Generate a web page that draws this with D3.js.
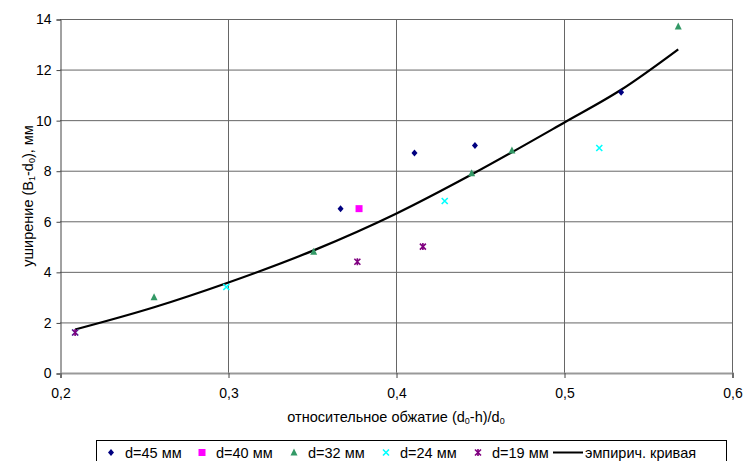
<!DOCTYPE html>
<html><head><meta charset="utf-8">
<script src="https://cdn.jsdelivr.net/npm/d3@7"></script>
<style>body{margin:0;background:#fff}svg{display:block;font-family:"Liberation Sans",Arial,sans-serif}</style>
</head><body><svg id="c" width="744" height="461"></svg>
<script>
const xTicks = [0.2, 0.3, 0.4, 0.5, 0.6];
const xTickLabels = ["0,2", "0,3", "0,4", "0,5", "0,6"];
const yTicks = [0, 2, 4, 6, 8, 10, 12, 14];

const d45x = [0.367, 0.411, 0.447, 0.534];
const d45y = [6.5, 8.7, 9.0, 11.1];
const d40x = [0.378];
const d40y = [6.5];
const d32x = [0.256, 0.351, 0.445, 0.469, 0.568];
const d32y = [3.0, 4.8, 7.9, 8.8, 13.7];
const d24x = [0.209, 0.299, 0.429, 0.521];
const d24y = [1.6, 3.4, 6.8, 8.9];
const d19x = [0.209, 0.377, 0.416];
const d19y = [1.6, 4.4, 5.0];
const curveX = [0.209, 0.256, 0.299, 0.351, 0.40, 0.445, 0.50, 0.534, 0.568];
const curveY = [1.72, 2.6, 3.55, 4.85, 6.3, 7.85, 9.9, 11.2, 12.8];

const series = [
  {name: "d=45 мм", xs: d45x, ys: d45y, type: "diamond", color: "#000080"},
  {name: "d=40 мм", xs: d40x, ys: d40y, type: "square", color: "#ff00ff"},
  {name: "d=32 мм", xs: d32x, ys: d32y, type: "triangle", color: "#339966"},
  {name: "d=24 мм", xs: d24x, ys: d24y, type: "x", color: "#00ffff"},
  {name: "d=19 мм", xs: d19x, ys: d19y, type: "star", color: "#800080"}
];

const svg = d3.select("#c");
const L = 60, R = 732, T = 19, B = 373;
const x = d3.scaleLinear().domain([0.2, 0.6]).range([L, R]);
const y = d3.scaleLinear().domain([0, 14]).range([B, T]);

// gridlines
svg.append("g").selectAll("line").data(yTicks.slice(1)).join("line")
  .attr("x1", L).attr("x2", R).attr("y1", d => y(d) + 0.5).attr("y2", d => y(d) + 0.5)
  .attr("stroke", "#666").attr("stroke-width", 1);
svg.append("g").selectAll("line").data(xTicks.slice(1)).join("line")
  .attr("y1", T).attr("y2", B).attr("x1", d => x(d) + 0.5).attr("x2", d => x(d) + 0.5)
  .attr("stroke", "#666").attr("stroke-width", 1);

// axes
const yAxis = d3.axisLeft(y).tickValues(yTicks).tickSize(4).tickPadding(5).tickFormat(d => d);
const gy = svg.append("g").attr("transform", `translate(${L + 0.5},0.5)`).call(yAxis);
gy.select(".domain").attr("stroke", "#444");
gy.selectAll(".tick line").attr("stroke", "#444");
gy.selectAll("text").attr("font-size", 14).attr("fill", "#000").attr("font-family", "Liberation Sans, Arial, sans-serif");

const xAxis = d3.axisBottom(x).tickValues(xTicks).tickSize(5).tickPadding(10).tickFormat((d, i) => xTickLabels[i]);
const gx = svg.append("g").attr("transform", `translate(0.5,${B})`).call(xAxis);
gx.select(".domain").attr("stroke", "#999").attr("stroke-width", 2);
gx.selectAll(".tick line").attr("stroke", "#444");
gx.selectAll("text").attr("font-size", 14).attr("fill", "#000").attr("font-family", "Liberation Sans, Arial, sans-serif");

// axis titles
const yt = svg.append("text").attr("transform", `translate(33,${(T + B) / 2}) rotate(-90)`)
  .attr("text-anchor", "middle").attr("font-size", 14.5);
yt.append("tspan").text("уширение (B");
yt.append("tspan").text("1").attr("font-size", 9).attr("dy", 2);
yt.append("tspan").text("-d").attr("dy", -2);
yt.append("tspan").text("0").attr("font-size", 9).attr("dy", 2);
yt.append("tspan").text("), мм").attr("dy", -2);

const xt = svg.append("text").attr("x", (L + R) / 2).attr("y", 422)
  .attr("text-anchor", "middle").attr("font-size", 14.5);
xt.append("tspan").text("относительное обжатие (d");
xt.append("tspan").text("0").attr("font-size", 9).attr("dy", 2);
xt.append("tspan").text("-h)/d").attr("dy", -2);
xt.append("tspan").text("0").attr("font-size", 9).attr("dy", 2);

// marker drawer
function marker(g, type, color, cx, cy) {
  if (type === "diamond") {
    g.append("path").attr("d", `M${cx},${cy - 3.5}L${cx + 3},${cy}L${cx},${cy + 3.5}L${cx - 3},${cy}Z`).attr("fill", color);
  } else if (type === "square") {
    g.append("rect").attr("x", cx - 3.5).attr("y", cy - 3.5).attr("width", 7).attr("height", 7).attr("fill", color);
  } else if (type === "triangle") {
    g.append("path").attr("d", `M${cx},${cy - 4}L${cx + 3.5},${cy + 3}L${cx - 3.5},${cy + 3}Z`).attr("fill", color);
  } else if (type === "x") {
    g.append("path").attr("d", `M${cx - 3},${cy - 3}L${cx + 3},${cy + 3}M${cx - 3},${cy + 3}L${cx + 3},${cy - 3}`)
      .attr("stroke", color).attr("stroke-width", 1.6).attr("fill", "none");
  } else if (type === "star") {
    g.append("path").attr("d", `M${cx - 3},${cy - 3}L${cx + 3},${cy + 3}M${cx - 3},${cy + 3}L${cx + 3},${cy - 3}M${cx},${cy - 3.5}L${cx},${cy + 3.5}`)
      .attr("stroke", color).attr("stroke-width", 1.6).attr("fill", "none");
  }
}

// curve
const line = d3.line().curve(d3.curveMonotoneX).x(d => x(d[0])).y(d => y(d[1]));
svg.append("path").datum(curveX.map((v, i) => [v, curveY[i]]))
  .attr("d", line).attr("fill", "none").attr("stroke", "#000").attr("stroke-width", 2.2);

// points
const pg = svg.append("g");
series.forEach(s => {
  s.xs.forEach((v, i) => marker(pg, s.type, s.color, x(v), y(s.ys[i])));
});

// legend
const lg = svg.append("g");
lg.append("rect").attr("x", 96.5).attr("y", 440.5).attr("width", 630).attr("height", 25)
  .attr("fill", "#fff").attr("stroke", "#000").attr("stroke-width", 1);
const legX = [111, 202, 294, 386, 478];
series.forEach((s, i) => {
  marker(lg, s.type, s.color, legX[i], 452.5);
  lg.append("text").attr("x", legX[i] + 14).attr("y", 457.5).attr("font-size", 14.5).text(s.name);
});
lg.append("line").attr("x1", 553).attr("x2", 583).attr("y1", 452.5).attr("y2", 452.5)
  .attr("stroke", "#000").attr("stroke-width", 2);
lg.append("text").attr("x", 585).attr("y", 457.5).attr("font-size", 14.5).text("эмпирич. кривая");
</script></body></html>
